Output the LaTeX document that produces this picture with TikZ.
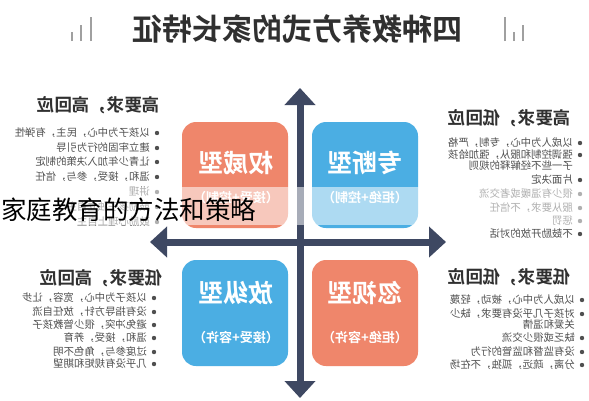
\documentclass[tikz,border=0pt]{standalone}
\usepackage{fontspec}
\usepackage{graphicx}
\setmainfont{Noto Sans CJK SC}[BoldFont={Noto Sans CJK SC Bold}]
\usetikzlibrary{arrows.meta}
\definecolor{axisc}{HTML}{3E4862}
\definecolor{orng}{HTML}{EF866B}
\definecolor{blu}{HTML}{4BAEE3}
\definecolor{headc}{HTML}{303030}
\definecolor{itemc}{HTML}{505050}
\definecolor{barc}{HTML}{A0A0A0}
\newcommand\mirr[1]{\reflectbox{#1}}
\begin{document}
\begin{tikzpicture}[x=1pt,y=-1pt,
  heading/.style={anchor=east,inner sep=0pt,font=\fontsize{17.5}{18}\selectfont\bfseries,text=headc},
  item/.style={anchor=east,inner sep=0pt,font=\fontsize{10.4}{11}\selectfont,text=itemc},
  dotc/.style={fill=itemc},
  quad/.style={rounded corners=14pt,minimum width=106pt,minimum height=106pt,inner sep=0pt},
  boxtitle/.style={inner sep=0pt,font=\fontsize{25}{25}\selectfont\bfseries,text=white},
  boxsub/.style={inner sep=0pt,font=\fontsize{13}{13}\selectfont\bfseries,text=white},
  axisline/.style={draw=axisc,line width=7pt,{Triangle[width=30pt,length=17pt]}-{Triangle[width=30pt,length=17pt]}},
  deco/.style={draw=barc,line width=2.6pt}]
\useasboundingbox (0,0) rectangle (589,400);
\fill[white] (0,0) rectangle (589,400);
% title
\node[inner sep=0pt,font=\fontsize{30}{30}\selectfont\bfseries,text=headc] (title) at (297,29) {\mirr{四种教养方式的家长特征}};
\draw[deco] (72,41) -- (72,32);
\draw[deco] (81,41) -- (81,25);
\draw[deco] (91,41) -- (91,17);
\draw[deco] (505,41) -- (505,17);
\draw[deco] (514,41) -- (514,32);
\draw[deco] (523,41) -- (523,25);
% axes
\coordinate (vt) at (300,88);
\coordinate (vb) at (300,398);
\coordinate (hl) at (150,242);
\coordinate (hr) at (446,242);
\draw[axisline] (vb) -- (vt);
\draw[axisline] (hl) -- (hr);
% boxes
\node[quad,fill=orng] (tl) at (235,175) {};
\node[quad,fill=blu] (tr) at (365,175) {};
\node[quad,fill=blu] (bl) at (235,313) {};
\node[quad,fill=orng] (br) at (365,313) {};
\node[boxtitle] (tlt) at (236,163) {\mirr{权威型}};
\node[boxsub] (tls) at (236,198) {\mirr{（接受+控制）}};
\node[boxtitle] (trt) at (365,163) {\mirr{专断型}};
\node[boxsub] (trs) at (365,198) {\mirr{（拒绝+控制）}};
\node[boxtitle] (blt) at (236,293) {\mirr{放纵型}};
\node[boxsub] (bls) at (236,338) {\mirr{（接受+容许）}};
\node[boxtitle] (brt) at (365,293) {\mirr{忽视型}};
\node[boxsub] (brs) at (365,338) {\mirr{（拒绝+容许）}};
% top-left text
\node[heading] (tlh) at (160,105) {\mirr{高要求，高回应}};
\foreach \yy/\tx [count=\i] in {133/以孩子为中心，民主，有弹性,148/建立牢固的行为引导,162/让青少年加入决策的制定,177/温和，接受，参与，信任,192/讲理,207/鼓励孩子独立自主,222/鼓励心理上自主}{
  \fill[dotc] (157,\yy) circle (2.2pt);
  \node[item] (tli\i) at (150,\yy) {\mirr{\tx}};
}
% top-right text
\node[heading] (trh) at (571,118) {\mirr{高要求，低回应}};
\foreach \yy/\tx [count=\i] in {143/以成人为中心，专制，严格,155/强调控制和服从，强加给孩,180/片面决定,194/很少有温暖或者交流,208/服从要求，不信任,221/惩罚,234/不鼓励开放的对话}{
  \fill[dotc] (580,\yy) circle (2.2pt);
  \node[item] (tri\i) at (573,\yy) {\mirr{\tx}};
}
\node[item] (tri2b) at (573,166) {\mirr{子一些不经解释的规则}};
% bottom-left text
\node[heading] (blh) at (163,278) {\mirr{低要求，高回应}};
\foreach \yy/\tx [count=\i] in {298/以孩子为中心，宽容，让步,312/没有指导方针，放任自流,325/避免冲突，很少管教孩子,338/温和，接受，养育,352/过度参与，角色不明,364/几乎没有规矩和期望}{
  \fill[dotc] (154,\yy) circle (2.2pt);
  \node[item] (bli\i) at (147,\yy) {\mirr{\tx}};
}
% bottom-right text
\node[heading] (brh) at (571,277) {\mirr{低要求，低回应}};
\foreach \yy/\tx [count=\i] in {300/以成人为中心，被动，轻蔑,314/对孩子几乎没有要求，缺少,338/缺乏或很少交流,352/没有监督和监管的行为,365/分离，疏远，孤独，不在场}{
  \fill[dotc] (582,\yy) circle (2.2pt);
  \node[item] (bri\i) at (575,\yy) {\mirr{\tx}};
}
\node[item] (bri2b) at (575,325) {\mirr{关爱和温情}};
% translucent band and overlay caption
\fill[white,opacity=0.55] (0,187) rectangle (589,225);
\node[anchor=west,inner sep=0pt,font=\fontsize{25.5}{26}\selectfont,text=black] (cap) at (1,210) {家庭教育的方法和策略};
\end{tikzpicture}
\end{document}
